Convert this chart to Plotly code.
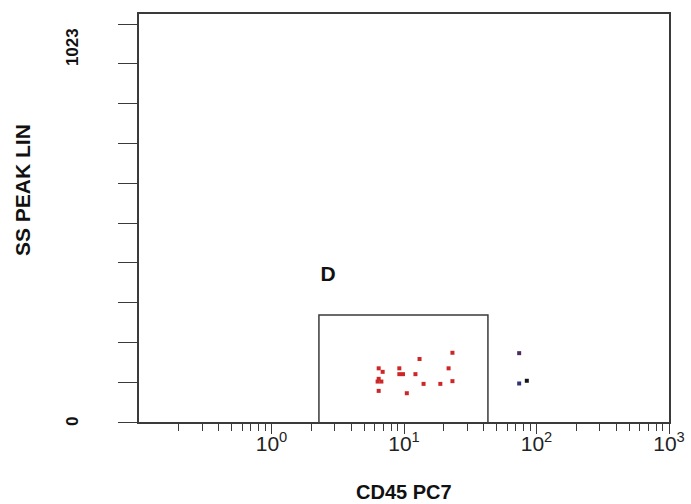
import plotly.graph_objects as go

# Data
gate_x = [6.44, 6.90, 9.22, 21.7, 9.22, 9.83, 12.2, 6.44, 6.75, 6.32, 14.05, 18.8, 23.2, 6.44, 10.5, 13.1, 23.2]
gate_y = [138, 129, 138, 138, 123, 123, 123, 111, 104, 104, 98, 98, 105, 80, 74, 162, 178]
out_x = [74.0, 74.0, 84.5]
out_y = [177, 99, 106]
out_colors = ["#4b2d5e", "#33337a", "#151515"]

gate_left, gate_right, gate_top = 2.28, 43.0, 275
gate_name = "D"
gate_label_pos = (2.67, 375)

x_tickvals = [1, 10, 100, 1000]
x_ticktext = ["10<sup>0</sup>", "10<sup>1</sup>", "10<sup>2</sup>", "10<sup>3</sup>"]
x_minor = [m * d for d in [0.1, 1, 10, 100] for m in range(2, 10)]
y_max_label = 1023
y_tickvals = [i * y_max_label / 10 for i in range(11)]

x_title = "CD45 PC7"
y_title = "SS PEAK LIN"

FONT = "Liberation Sans, Arial, sans-serif"
LINE = "#3a3a3a"

fig = go.Figure()
fig.add_trace(go.Scatter(
    x=[gate_left, gate_left, gate_right, gate_right],
    y=[0, gate_top, gate_top, 0],
    mode="lines", line=dict(color=LINE, width=1.5), hoverinfo="skip"))
fig.add_trace(go.Scatter(
    x=gate_x, y=gate_y, mode="markers",
    marker=dict(symbol="square", size=4, color="#cc2626", line=dict(width=0))))
fig.add_trace(go.Scatter(
    x=out_x, y=out_y, mode="markers",
    marker=dict(symbol="square", size=4, color=out_colors, line=dict(width=0))))
fig.add_trace(go.Scatter(
    x=[gate_label_pos[0]], y=[gate_label_pos[1]], mode="text", text=[gate_name],
    textfont=dict(family=FONT, size=21, color="#111111", weight="bold"),
    textposition="middle center"))

fig.update_layout(
    width=691, height=504, autosize=False,
    margin=dict(l=139, r=22, t=14, b=82, autoexpand=False),
    paper_bgcolor="white", plot_bgcolor="white",
    showlegend=False,
    font=dict(family=FONT, color="#222222"),
    xaxis=dict(
        type="log", range=[-1, 3], automargin=False,
        showgrid=False, zeroline=False,
        showline=True, linecolor=LINE, linewidth=1.5, mirror=True,
        ticks="outside", ticklen=10, tickwidth=1.3, tickcolor=LINE,
        tickvals=x_tickvals, ticktext=x_ticktext,
        ticklabelstandoff=-8,
        tickfont=dict(family=FONT, size=21, color="#222222"),
        minor=dict(tickvals=x_minor, ticks="outside", ticklen=7, tickwidth=1.3, tickcolor=LINE, showgrid=False),
    ),
    yaxis=dict(
        range=[0, 1049], automargin=False,
        showgrid=False, zeroline=False,
        showline=True, linecolor=LINE, linewidth=1.5, mirror=True,
        ticks="outside", ticklen=19, tickwidth=1.3, tickcolor=LINE,
        tickvals=y_tickvals, showticklabels=False,
    ),
    annotations=[
        dict(text="0", x=0, y=0, xref="paper", yref="y", xshift=-67, textangle=-90,
             showarrow=False, xanchor="center", yanchor="middle",
             font=dict(family=FONT, size=17, color="#111111", weight="bold")),
        dict(text=str(y_max_label), x=0, y=y_max_label, xref="paper", yref="y", xshift=-67, yshift=-23,
             textangle=-90, showarrow=False, xanchor="center", yanchor="middle",
             font=dict(family=FONT, size=17, color="#111111", weight="bold")),
        dict(text=y_title, x=0, y=0.5, xref="paper", yref="paper", xshift=-117, yshift=28,
             textangle=-90, showarrow=False, xanchor="center", yanchor="middle",
             font=dict(family=FONT, size=21, color="#111111", weight="bold")),
        dict(text=x_title, x=0.5, y=0, xref="paper", yref="paper", yshift=-70,
             showarrow=False, xanchor="center", yanchor="middle",
             font=dict(family=FONT, size=20, color="#111111", weight="bold")),
    ],
)

fig.write_html("out.html", config={"displayModeBar": False},
               post_script="document.body.style.margin='0px';")
